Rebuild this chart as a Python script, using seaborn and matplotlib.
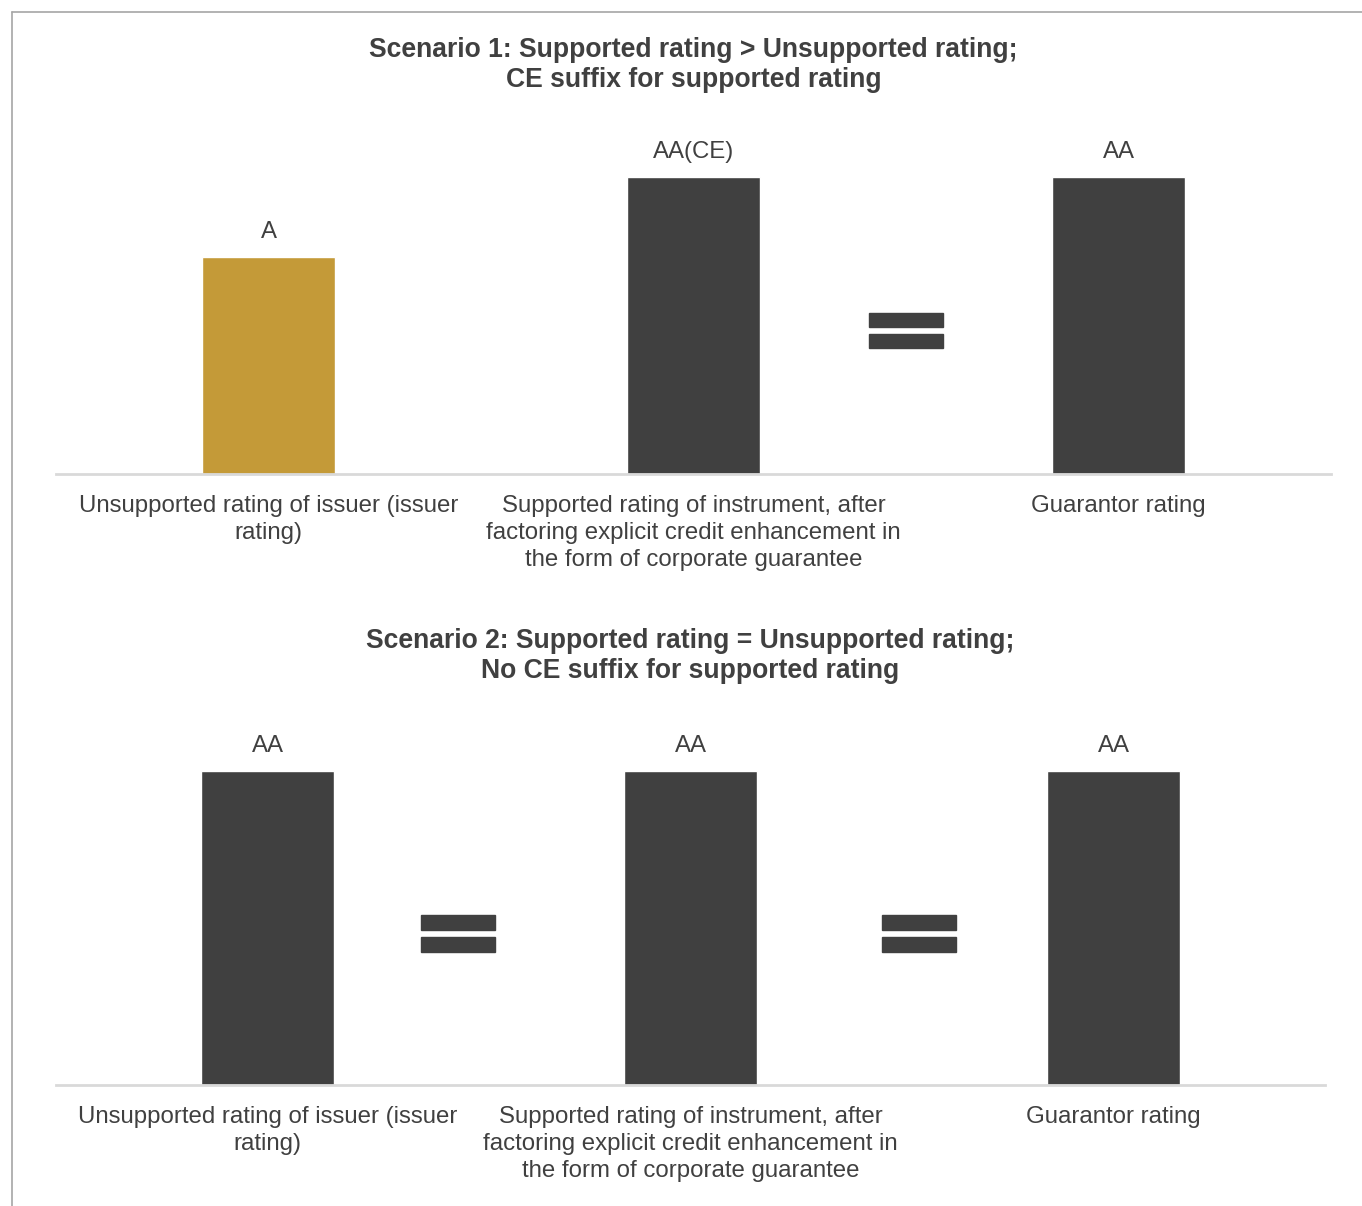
import matplotlib
matplotlib.use("Agg")
import matplotlib.pyplot as plt
from matplotlib.patches import Rectangle
from matplotlib.lines import Line2D
import seaborn as sns
import pandas as pd

# Dados
categorias = [
    "Unsupported rating of issuer (issuer\nrating)",
    "Supported rating of instrument, after\nfactoring explicit credit enhancement in\nthe form of corporate guarantee",
    "Guarantor rating",
]
titulo1 = "Scenario 1: Supported rating > Unsupported rating;\nCE suffix for supported rating"
titulo2 = "Scenario 2: Supported rating = Unsupported rating;\nNo CE suffix for supported rating"
rotulos1 = ["A", "AA(CE)", "AA"]
rotulos2 = ["AA", "AA", "AA"]
nivel1 = [73, 100, 100]
nivel2 = [100, 100, 100]
cores1 = ["#C49A38", "#404040", "#404040"]
cores2 = ["#404040", "#404040", "#404040"]
iguais1 = [1.5]
iguais2 = [0.45, 1.54]

sns.set_theme(style="white")
plt.rcParams["font.family"] = ["Liberation Sans", "DejaVu Sans"]
texto = "#404040"

fig = plt.figure(figsize=(13.62, 12.06), dpi=100)

# Borda (recortada) da figura original
fig.add_artist(Line2D([12 / 1362, 1], [1 - 12 / 1206] * 2, color="#a6a6a6", lw=1.2))
fig.add_artist(Line2D([12 / 1362] * 2, [0, 1 - 12 / 1206], color="#a6a6a6", lw=1.2))

ax1 = fig.add_axes([56 / 1362, 1 - 474 / 1206, 1275 / 1362, 297 / 1206])
ax2 = fig.add_axes([56 / 1362, 1 - 1085 / 1206, 1269 / 1362, 314 / 1206])


def desenha(ax, niveis, cores, rotulos, iguais, titulo, titulo_y):
    df = pd.DataFrame({"cat": categorias, "nivel": niveis})
    paleta = dict(zip(categorias, cores))
    sns.barplot(data=df, x="cat", y="nivel", hue="cat", palette=paleta,
                legend=False, width=0.315, saturation=1, ax=ax)
    ax.set_xlim(-0.5, 2.5)
    ax.set_ylim(0, max(niveis))
    ax.set_xlabel("")
    ax.set_ylabel("")
    ax.set_yticks([])
    ax.tick_params(axis="x", length=0, pad=15, labelsize=17.3, labelcolor=texto)
    for t in ax.get_xticklabels():
        t.set_linespacing(1.3)
    for lado in ["top", "right", "left"]:
        ax.spines[lado].set_visible(False)
    ax.spines["bottom"].set_color("#d9d9d9")
    ax.spines["bottom"].set_linewidth(2)
    # rótulos acima das barras
    for i, (v, r) in enumerate(zip(niveis, rotulos)):
        ax.annotate(r, (i, v), xytext=(0, 25), textcoords="offset pixels",
                    ha="center", va="center", fontsize=17.3, color=texto)
    # sinais de igual
    topo = max(niveis)
    for x in iguais:
        for y0 in [0.425, 0.494]:
            ax.add_patch(Rectangle((x - 0.088, y0 * topo), 0.176, 0.047 * topo,
                                   color="#404040", clip_on=False))
    fig.text(ax.get_position().x0 + ax.get_position().width / 2, titulo_y, titulo,
             ha="center", va="center", fontsize=19.1, fontweight="bold",
             color=texto, linespacing=1.2)


desenha(ax1, nivel1, cores1, rotulos1, iguais1, titulo1, 1 - 65 / 1206)
desenha(ax2, nivel2, cores2, rotulos2, iguais2, titulo2, 1 - 656 / 1206)

fig.savefig("out.png", dpi=100, facecolor="white")
